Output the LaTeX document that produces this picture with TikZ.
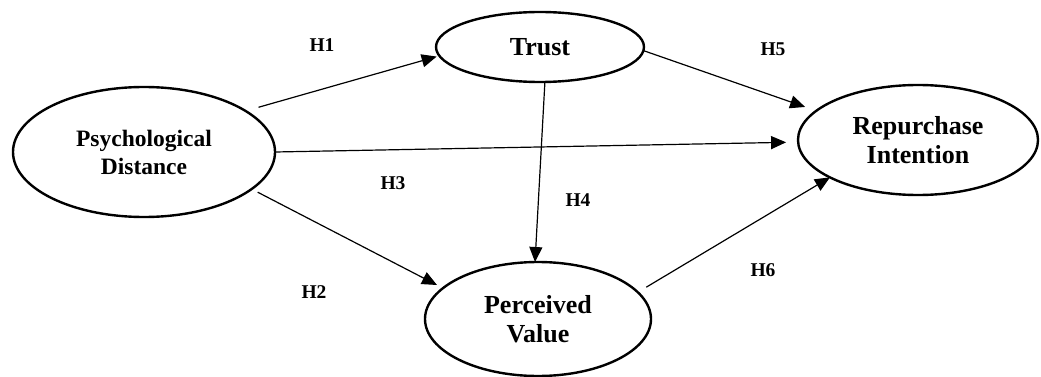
\documentclass[tikz,border=0pt]{standalone}
\usepackage{fontspec}
\setmainfont{Liberation Serif}
\usetikzlibrary{arrows.meta,shapes.geometric}
\begin{document}
\begin{tikzpicture}[x=1pt,y=-1pt,
  latent/.style={ellipse, draw, line width=2.4pt, inner sep=0pt, outer sep=0pt,
    align=center, font=\fontsize{26}{29.5}\selectfont\bfseries},
  hyp/.style={line width=1.2pt, -{Triangle[length=15pt,width=13pt]}},
  hlab/.style={font=\fontsize{19.5}{22}\selectfont\bfseries}]
\useasboundingbox (0,0) rectangle (1041,377);
\node[latent, minimum width=262pt, minimum height=130pt,
  font=\fontsize{23.5}{28}\selectfont\bfseries] (psych) at (144,152) {Psychological\\Distance};
\node[latent, minimum width=208pt, minimum height=70pt] (trust) at (540,47) {Trust};
\node[latent, minimum width=240pt, minimum height=110pt] (rep) at (918,140) {Repurchase\\Intention};
\node[latent, minimum width=226pt, minimum height=114pt] (pv) at (538,319) {Perceived\\Value};

\draw[hyp, shorten <=13.5pt, shorten >=2.8pt] (psych.22.3) -- (trust.185.2);
\draw[hyp, shorten >=12pt] (psych.0) -- (rep.181.3);
\draw[hyp, shorten <=6.9pt, shorten >=6.8pt] (psych.341.2) -- (pv.162);
\draw[hyp] (trust.278) -- (pv.93);
\draw[hyp, shorten >=11.8pt] (trust.358) -- (rep.164.1);
\draw[hyp, shorten <=9.9pt] (pv.15.8) -- (rep.203);

\node[hlab] (h1) at (322,45) {H1};
\node[hlab] (h5) at (773,49) {H5};
\node[hlab] (h3) at (393,183) {H3};
\node[hlab] (h2) at (314,292) {H2};
\node[hlab] (h4) at (578,200) {H4};
\node[hlab] (h6) at (763,270) {H6};
\end{tikzpicture}
\end{document}
